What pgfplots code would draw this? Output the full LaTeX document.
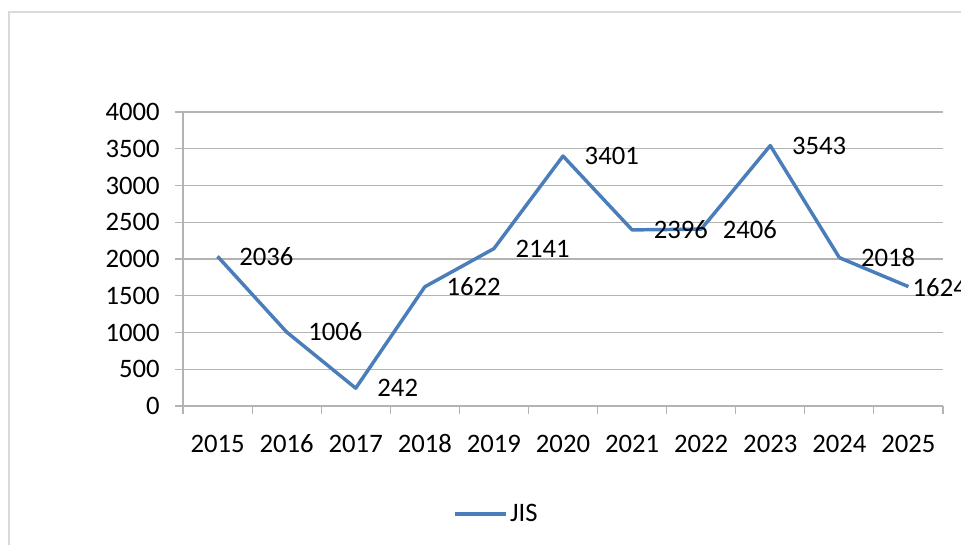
\documentclass[border=0pt]{standalone}
\usepackage{fontspec}
\setmainfont{Carlito}
\usepackage{pgfplots}
\pgfplotsset{compat=1.18}
\definecolor{jisblue}{HTML}{4A7EBB}
\definecolor{gridgray}{HTML}{B3B3B3}
\definecolor{framegray}{HTML}{D9D9D9}

\begin{document}
\begin{tikzpicture}
% canvas: reference pixels * 0.75pt (961 x 545 px)
\path[use as bounding box] (0pt,0pt) rectangle (720.75pt,408.75pt);
\draw[framegray, line width=1.2pt] (6.75pt,-4pt) -- (6.75pt,399.75pt) -- (730pt,399.75pt);
\begin{axis}[
    at={(137.25pt,104.25pt)}, anchor=south west,
    scale only axis,
    width=570pt, height=220.5pt,
    xmin=-0.5, xmax=10.5,
    ymin=0, ymax=4000,
    xtick={0,...,10},
    xticklabels={2015,2016,2017,2018,2019,2020,2021,2022,2023,2024,2025},
    minor xtick={-0.5,0.5,...,10.5},
    ytick={0,500,...,4000},
    major x tick style={draw=none},
    tick align=outside,
    major tick length=6pt,
    minor tick length=6pt,
    every tick/.style={gridgray, line width=0.8pt},
    axis x line*=bottom, axis y line*=left,
    axis line style={gridgray, line width=0.8pt},
    ymajorgrids, grid style={gridgray, line width=0.8pt},
    tick label style={font=\fontsize{20}{24}\selectfont, /pgf/number format/assume math mode=true},
    yticklabel={\pgfmathprintnumber[fixed,1000 sep={}]{\tick}},
    xticklabel style={yshift=-12pt, text height=13pt, text depth=1pt},
    yticklabel style={xshift=-8pt},
    legend style={at={(0.413,-0.367)}, anchor=center, draw=none, fill=none,
        font=\fontsize{20}{24}\selectfont},
    legend image code/.code={\draw[#1] (0pt,0pt) -- (38pt,0pt);},
    clip=false,
]
\addplot[color=jisblue, line width=2.6pt, line join=round,
    nodes near coords, point meta=explicit symbolic,
    every node near coord/.style={anchor=west, inner sep=0pt, xshift=15pt, black,
        font=\fontsize{20}{24}\selectfont}]
    coordinates {
    (0,2036) [2036] (1,1006) [1006] (2,242) [242] (3,1622) [1622]
    (4,2141) [2141] (5,3401) [3401] (6,2396) [2396] (7,2406) [2406]
    (8,3543) [3543] (9,2018) [2018]
};
% the last label sits closer to its point, as in the reference
\addplot[draw=none, nodes near coords, point meta=explicit symbolic,
    every node near coord/.style={anchor=west, inner sep=0pt, xshift=3pt, yshift=-1pt, black,
        font=\fontsize{20}{24}\selectfont}, forget plot]
    coordinates {(10,1624) [1624]};
\addplot[color=jisblue, line width=2.6pt, line join=round, forget plot]
    coordinates {(9,2018) (10,1624)};
\addlegendentry{JIS}
\end{axis}
\end{tikzpicture}
\end{document}
